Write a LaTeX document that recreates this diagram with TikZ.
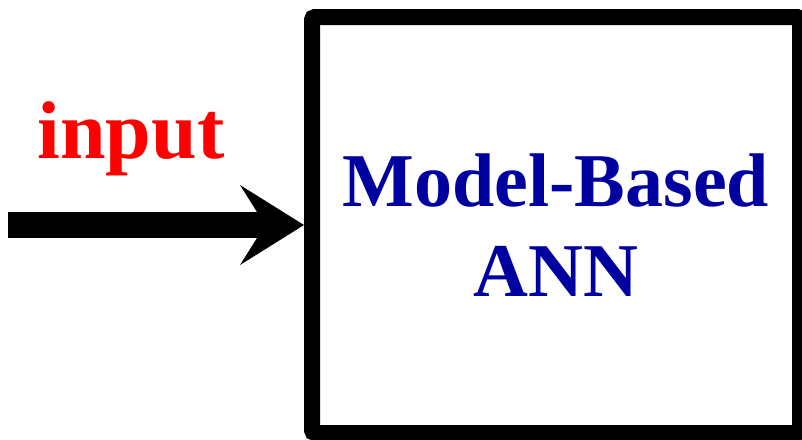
\documentclass[tikz,border=0pt]{standalone}
\usepackage{fontspec}
\setmainfont{Liberation Serif}
\definecolor{annblue}{RGB}{0,0,160}
\definecolor{inred}{RGB}{255,0,0}
\begin{document}
\begin{tikzpicture}[x=1pt,y=-1pt,
  boxstyle/.style={draw=black, line width=16pt, rounded corners=3pt,
    minimum width=488pt, minimum height=416pt, inner sep=0pt,
    align=center, text=annblue, font=\bfseries\fontsize{76}{90}\selectfont},
  labelstyle/.style={text=inred, font=\bfseries\fontsize{82}{90}\selectfont, inner sep=0pt}]
\useasboundingbox (0,0) rectangle (802,439);
\node[boxstyle] (box) at (556,225) {Model-Based\\ANN};
\node[labelstyle, anchor=base] (lbl) at (131,158) {input};
\coordinate (start) at (8,225);
\coordinate (tip) at (box.west);
\path (tip) ++(-30,0) coordinate (neck);
\draw[line width=26pt] (start) -- (neck);
\fill (tip) -- ++(-64,-40) -- ++(17,27) -- ++(0,26) -- ++(-17,27) -- cycle;
\end{tikzpicture}
\end{document}
